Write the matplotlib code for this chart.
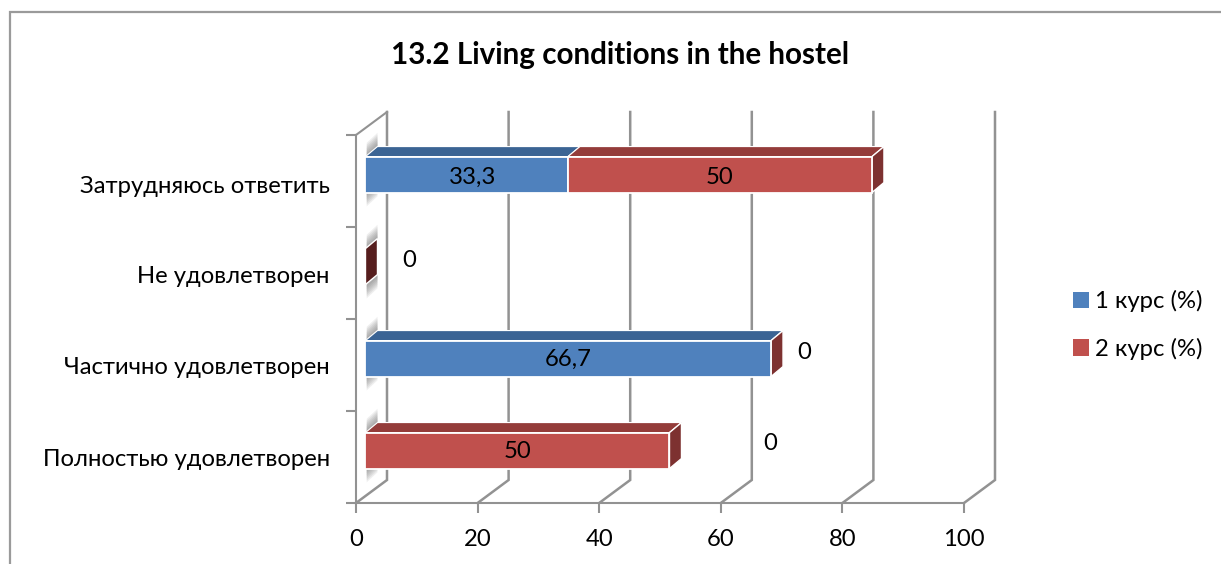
import matplotlib
matplotlib.use('Agg')
import matplotlib.pyplot as plt
from matplotlib.patches import Patch, Polygon

plt.rcParams['font.family'] = ['Lato', 'Noto Sans', 'DejaVu Sans']

categories = ['Полностью удовлетворен', 'Частично удовлетворен', 'Не удовлетворен', 'Затрудняюсь ответить']
series_names = ['1 курс (%)', '2 курс (%)']
course1 = [0, 66.7, 0, 33.3]
course2 = [50, 0, 0, 50]
x_ticks = [0, 20, 40, 60, 80, 100]
title = '13.2 Living conditions in the hostel'

W, H = 1221, 564
X0, X100 = 356, 964
Y_BOT, Y_TOP = 503, 135

# 3d look, all in data units
BACK_X = 31 / 6.08
BACK_Y = 23 / 92
DEPTH_X = 12 / 6.08
DEPTH_Y = 10 / 92
BAR_START = 1.56
BAR_H = 36 / 92
BAR_SHIFT = 0.07
FS = 17.2

GREY = '#929292'
BLUE, BLUE_TOP = '#4f81bd', '#3b6494'
RED, RED_TOP, RED_SIDE = '#c0504d', '#943c3a', '#7d3130'
DARK = '#561e1e'

fig = plt.figure(figsize=(W / 100, H / 100), dpi=100)
ax = fig.add_axes([X0 / W, 1 - Y_BOT / H, (X100 - X0) / W, (Y_BOT - Y_TOP) / H])
ax.set_xlim(0, 100)
ax.set_ylim(-0.5, 3.5)

# chart border, only left and top are inside the crop
fig.add_artist(plt.Line2D([9.5 / W, 9.5 / W, 1], [0, 1 - 11.5 / H, 1 - 11.5 / H], transform=fig.transFigure,
                          color='#9a9a9a', lw=1.6, solid_joinstyle='miter'))

for s in ['top', 'right']:
    ax.spines[s].set_visible(False)
for s in ['left', 'bottom']:
    ax.spines[s].set_color(GREY)
    ax.spines[s].set_linewidth(1.5)

# back wall and floor
for t in x_ticks:
    ax.plot([t, t + BACK_X, t + BACK_X], [-0.5, -0.5 + BACK_Y, 3.5 + BACK_Y], color=GREY, lw=1.8,
            clip_on=False, zorder=1, solid_joinstyle='miter')
ax.plot([0, BACK_X], [3.5, 3.5 + BACK_Y], color=GREY, lw=1.5, clip_on=False, zorder=1)

ax.set_xticks(x_ticks)
ax.set_yticks([-0.5, 0.5, 1.5, 2.5, 3.5])
ax.set_yticklabels([])
ax.tick_params(axis='both', color=GREY, width=1.5, length=7)
ax.tick_params(axis='x', labelsize=FS, pad=12, labelcolor='black')

label_nudge = [-0.028, -0.028, -0.043, -0.063]
for i, c in enumerate(categories):
    ax.text(-4.3, i + label_nudge[i], c, ha='right', va='center', fontsize=FS, color='black', clip_on=False)


def shadow(y):
    # soft grey smear on the wall behind a bar
    for k in range(7):
        grow = k * 0.02
        ax.add_patch(Polygon([(BAR_START + 0.2, y - BAR_H / 2 - 0.03 - grow),
                              (BAR_START + DEPTH_X, y - BAR_H / 2 + DEPTH_Y - 0.03 - grow),
                              (BAR_START + DEPTH_X, y + BAR_H / 2 + DEPTH_Y + 0.03 + grow),
                              (BAR_START + 0.2, y + BAR_H / 2 + 0.03 + grow)],
                             facecolor='#666666', edgecolor='none', alpha=0.1, zorder=2, clip_on=False))


def bar3d(left, width, y, front, top):
    ax.barh(y, width, height=BAR_H, left=left, color=front, edgecolor='white', linewidth=1.3, zorder=5)
    ax.add_patch(Polygon([(left, y + BAR_H / 2), (left + DEPTH_X, y + BAR_H / 2 + DEPTH_Y),
                          (left + width + DEPTH_X, y + BAR_H / 2 + DEPTH_Y), (left + width, y + BAR_H / 2)],
                         facecolor=top, edgecolor='white', linewidth=0.8, zorder=4, clip_on=False))


def side(right, y, color):
    ax.add_patch(Polygon([(right, y - BAR_H / 2), (right + DEPTH_X, y - BAR_H / 2 + DEPTH_Y),
                          (right + DEPTH_X, y + BAR_H / 2 + DEPTH_Y), (right, y + BAR_H / 2)],
                         facecolor=color, edgecolor='white', linewidth=1.0, zorder=4, clip_on=False))


value_nudge_y = [0.0, 0.0, 0.0, -0.02]
for i in range(len(categories)):
    y = i + BAR_SHIFT
    shadow(y)
    left = BAR_START
    if course1[i] > 0:
        bar3d(left, course1[i], y, BLUE, BLUE_TOP)
        ax.text(left + course1[i] / 2 + (1.0 if i == 3 else 0), y - 0.01 + value_nudge_y[i],
                f'{course1[i]}'.replace('.', ','), ha='center', va='center', fontsize=FS, color='black', zorder=6)
        left += course1[i]
    if course2[i] > 0:
        bar3d(left, course2[i], y, RED, RED_TOP)
        ax.text(left + course2[i] / 2, y - 0.01 + value_nudge_y[i], f'{course2[i]}', ha='center', va='center',
                fontsize=FS, color='black', zorder=6)
        left += course2[i]
    side(left, y, DARK if left == BAR_START else RED_SIDE)

# zero labels sit where the original chart left them
for zx, zy in [(68.1, 0.147), (73.7, 1.136), (8.7, 2.136)]:
    ax.text(zx, zy, '0', ha='center', va='center', fontsize=FS, color='black', zorder=6)

fig.text(620 / W, 1 - 55 / H, title, ha='center', va='center', fontsize=21.3, fontweight='bold', color='black')

handles = [Patch(facecolor=BLUE, label=series_names[0]), Patch(facecolor=RED, label=series_names[1])]
fig.legend(handles=handles, loc='center left', bbox_to_anchor=(1065.5 / W, 1 - 325 / H), frameon=False,
           fontsize=FS, handlelength=0.7, handleheight=0.7, handletextpad=0.25, labelspacing=1.06,
           borderpad=0.3, borderaxespad=0)

fig.savefig('out.png', dpi=100)
